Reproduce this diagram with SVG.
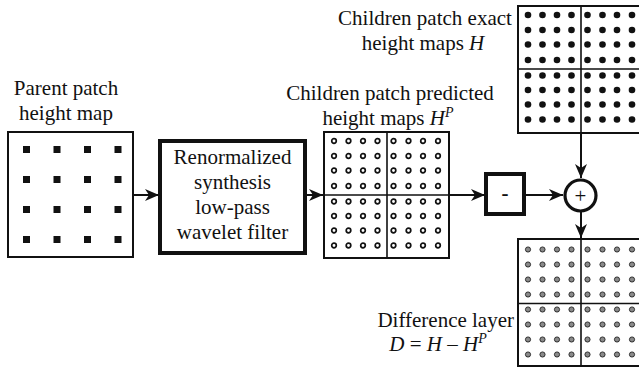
<svg xmlns="http://www.w3.org/2000/svg" xmlns:xlink="http://www.w3.org/1999/xlink" width="639" height="369" viewBox="0 0 639 369">
<style>
  text { font-family: 'Liberation Serif', 'DejaVu Serif', 'Times New Roman', serif; font-size: 21px; fill: #111; }
  .mid { text-anchor: middle; }
  .end { text-anchor: end; }
  .it { font-style: italic; }
  .grid { fill: #fff; stroke: #111; stroke-width: 2; }
  .div { stroke: #111; stroke-width: 1.6; fill: none; }
  .conn { stroke: #111; stroke-width: 2; fill: none; marker-end: url(#ah); }
  .thick { fill: #fff; stroke: #111; stroke-width: 4; }
  .sq { fill: #111; }
</style>
<defs>
  <marker id="ah" markerUnits="userSpaceOnUse" markerWidth="15" markerHeight="12" refX="14" refY="6" orient="auto">
    <path d="M0,0 L14,6 L0,12 L4,6 Z" fill="#111"/>
  </marker>
  <g id="rowB">
    <circle cx="10" cy="0" r="3.3"/><circle cx="24.5" cy="0" r="3.3"/><circle cx="39" cy="0" r="3.3"/><circle cx="53.5" cy="0" r="3.3"/>
    <circle cx="69.5" cy="0" r="3.3"/><circle cx="84.5" cy="0" r="3.3"/><circle cx="99" cy="0" r="3.3"/><circle cx="114" cy="0" r="3.3"/>
  </g>
  <g id="rowO">
    <circle cx="10" cy="0" r="2.3"/><circle cx="24.5" cy="0" r="2.3"/><circle cx="39" cy="0" r="2.3"/><circle cx="53.5" cy="0" r="2.3"/>
    <circle cx="69.5" cy="0" r="2.3"/><circle cx="84.5" cy="0" r="2.3"/><circle cx="99" cy="0" r="2.3"/><circle cx="114" cy="0" r="2.3"/>
  </g>
  <g id="rowG">
    <circle cx="10" cy="0" r="2.6"/><circle cx="24.5" cy="0" r="2.6"/><circle cx="39" cy="0" r="2.6"/><circle cx="53.5" cy="0" r="2.6"/>
    <circle cx="69.5" cy="0" r="2.6"/><circle cx="84.5" cy="0" r="2.6"/><circle cx="99" cy="0" r="2.6"/><circle cx="114" cy="0" r="2.6"/>
  </g>
  <g id="dotsB">
    <use xlink:href="#rowB" y="9"/><use xlink:href="#rowB" y="24"/><use xlink:href="#rowB" y="38.5"/><use xlink:href="#rowB" y="54"/>
    <use xlink:href="#rowB" y="69.5"/><use xlink:href="#rowB" y="84"/><use xlink:href="#rowB" y="98.5"/><use xlink:href="#rowB" y="113.5"/>
  </g>
  <g id="dotsO">
    <use xlink:href="#rowO" y="9"/><use xlink:href="#rowO" y="24"/><use xlink:href="#rowO" y="38.5"/><use xlink:href="#rowO" y="54"/>
    <use xlink:href="#rowO" y="69.5"/><use xlink:href="#rowO" y="84"/><use xlink:href="#rowO" y="98.5"/><use xlink:href="#rowO" y="113.5"/>
  </g>
  <g id="dotsG">
    <use xlink:href="#rowG" y="10.5"/><use xlink:href="#rowG" y="25.5"/><use xlink:href="#rowG" y="40.5"/><use xlink:href="#rowG" y="55.5"/>
    <use xlink:href="#rowG" y="70.5"/><use xlink:href="#rowG" y="85.5"/><use xlink:href="#rowG" y="100.5"/><use xlink:href="#rowG" y="115.5"/>
  </g>
</defs>

<rect x="0" y="0" width="639" height="369" fill="#fff"/>

<g id="parent" font-family="Liberation Serif, serif">
  <text class="mid" x="66" y="95">Parent patch</text>
  <text class="mid" x="66" y="120">height map</text>
  <rect class="grid" x="8" y="132" width="125" height="125"/>
  <g class="sq">
    <rect x="23" y="146" width="7" height="7"/><rect x="53.5" y="146" width="7" height="7"/><rect x="84" y="146" width="7" height="7"/><rect x="114.5" y="146" width="7" height="7"/>
    <rect x="23" y="176" width="7" height="7"/><rect x="53.5" y="176" width="7" height="7"/><rect x="84" y="176" width="7" height="7"/><rect x="114.5" y="176" width="7" height="7"/>
    <rect x="23" y="206" width="7" height="7"/><rect x="53.5" y="206" width="7" height="7"/><rect x="84" y="206" width="7" height="7"/><rect x="114.5" y="206" width="7" height="7"/>
    <rect x="23" y="236" width="7" height="7"/><rect x="53.5" y="236" width="7" height="7"/><rect x="84" y="236" width="7" height="7"/><rect x="114.5" y="236" width="7" height="7"/>
  </g>
</g>

<g id="filter">
  <rect class="thick" x="160" y="141" width="145" height="112"/>
  <text class="mid" x="232.5" y="164">Renormalized</text>
  <text class="mid" x="232.5" y="189">synthesis</text>
  <text class="mid" x="232.5" y="214">low-pass</text>
  <text class="mid" x="232.5" y="239">wavelet filter</text>
</g>

<g id="predicted">
  <text class="mid" x="390" y="100">Children patch predicted</text>
  <text class="mid" x="388" y="125">height maps <tspan class="it">H</tspan><tspan class="it" font-size="14" dy="-8">P</tspan></text>
  <rect class="grid" x="324" y="132" width="125" height="126"/>
  <path class="div" d="M387,132 V258 M324,195 H449"/>
  <use xlink:href="#dotsO" x="324" y="132" fill="#fff" stroke="#111" stroke-width="1.7"/>
</g>

<g id="exact">
  <text class="mid" x="425" y="25">Children patch exact</text>
  <text class="mid" x="423" y="50">height maps <tspan class="it">H</tspan></text>
  <rect class="grid" x="518" y="6" width="126" height="127"/>
  <path class="div" d="M581,6 V133 M518,69 H644"/>
  <use xlink:href="#dotsB" x="518" y="6" fill="#111"/>
</g>

<g id="minus">
  <rect class="thick" x="486" y="174" width="38" height="40" stroke-width="3.5"/>
  <text class="mid" x="505" y="200" font-weight="bold">-</text>
</g>

<g id="sum">
  <circle cx="580.5" cy="195.5" r="15.5" fill="#fff" stroke="#111" stroke-width="3.2"/>
  <text class="mid" x="580.5" y="203" font-size="20">+</text>
</g>

<g id="difference">
  <text class="end" x="514" y="327">Difference layer</text>
  <text class="mid" x="438" y="351"><tspan class="it">D</tspan> = <tspan class="it">H</tspan> – <tspan class="it">H</tspan><tspan class="it" font-size="14" dy="-8">P</tspan></text>
  <rect class="grid" x="518" y="239" width="126" height="127"/>
  <path class="div" d="M581,239 V366 M518,303.5 H644"/>
  <use xlink:href="#dotsG" x="518" y="239" fill="#8a8a8a" stroke="#111" stroke-width="0.8"/>
</g>

<g id="connectors">
  <path class="conn" d="M133,195 H159"/>
  <path class="conn" d="M305,195 H323"/>
  <path class="conn" d="M449,195 H485"/>
  <path class="conn" d="M524,195 H563"/>
  <path class="conn" d="M581,133 V178"/>
  <path class="conn" d="M581,212 V238"/>
</g>
</svg>
